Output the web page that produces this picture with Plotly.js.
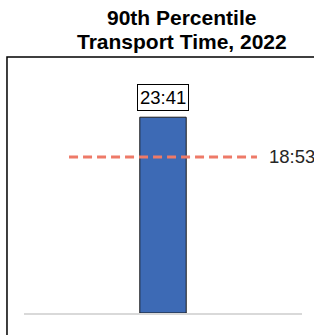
<!DOCTYPE html>
<html>
<head>
<meta charset="utf-8">
<script src="https://cdn.plot.ly/plotly-3.0.1.min.js"></script>
<style>html,body{margin:0;padding:0;background:#fff;}#chart{width:314px;height:335px;}</style>
</head>
<body>
<div id="chart"></div>
<script>
// Data (minutes)
const categories = ['2022'];
const values = [23 + 41/60];          // 23:41
const valueLabels = ['23:41'];
const benchmark = 18 + 53/60;         // 18:53
const benchmarkLabel = '18:53';
const titleLines = ['90th Percentile', 'Transport Time, 2022'];

const FONT = 'Liberation Sans, Arial, sans-serif';

const traces = [{
  type: 'bar',
  x: categories,
  y: values,
  width: 0.334,
  marker: {color: '#3D6AB5', line: {color: '#1c1c1c', width: 1}},
  hoverinfo: 'skip'
}];

const titleY = [1.187, 1.091];

const layout = {
  width: 314, height: 335,
  margin: {l: 24, r: 12, t: 64, b: 22, pad: 0},
  paper_bgcolor: '#fff', plot_bgcolor: '#fff',
  showlegend: false,
  xaxis: {
    type: 'category', range: [-1, 1],
    showticklabels: false, ticks: '', showgrid: false, zeroline: false,
    showline: true, linecolor: '#d9d9d9', linewidth: 1.5, fixedrange: true
  },
  yaxis: {
    range: [0, 30.12], showticklabels: false, ticks: '', showgrid: false,
    zeroline: false, showline: false, fixedrange: true
  },
  shapes: [
    {type: 'line', xref: 'x', yref: 'y', x0: -0.676, x1: 0.676, y0: benchmark, y1: benchmark,
     line: {color: '#EE7A68', width: 3, dash: '9px,5px'}},
    {type: 'rect', xref: 'paper', yref: 'paper', x0: -0.0612, x1: 1.3, y0: -0.3, y1: 1.028,
     line: {color: '#000', width: 1.5}, fillcolor: 'rgba(0,0,0,0)'}
  ],
  annotations: titleLines.map((t, i) => ({
    x: 0.568, y: titleY[i], xref: 'paper', yref: 'paper', xanchor: 'center', yanchor: 'middle',
    text: '<b>' + t + '</b>', showarrow: false,
    font: {family: FONT, size: 21, color: '#000'}
  })).concat([
    {x: 0, y: values[0], xref: 'x', yref: 'y', text: valueLabels[0], showarrow: false,
     yanchor: 'bottom', yshift: 6, font: {family: FONT, size: 18.5, color: '#000'},
     bgcolor: '#fff', bordercolor: '#000', borderwidth: 1, borderpad: 2},
    {x: 0.676, y: benchmark, xref: 'x', yref: 'y', text: benchmarkLabel, showarrow: false,
     xanchor: 'left', xshift: 10, font: {family: FONT, size: 18.5, color: '#262626'}}
  ])
};

Plotly.newPlot('chart', traces, layout, {staticPlot: true, displayModeBar: false});
</script>
</body>
</html>
